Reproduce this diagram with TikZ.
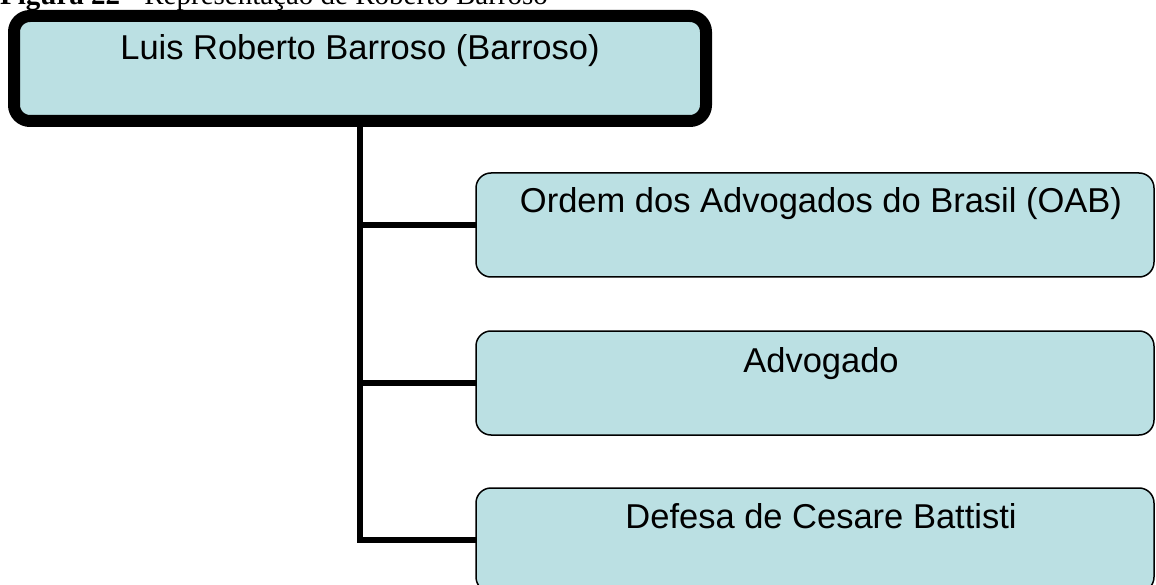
\documentclass[tikz,border=0pt]{standalone}
\usepackage{fontspec}
\setmainfont{Liberation Sans}
\newfontfamily\capfont{Liberation Serif}
\definecolor{boxfill}{RGB}{187,224,227}
\begin{document}
\begin{tikzpicture}[x=1pt,y=-1pt,
  topbox/.style={draw=black,fill=boxfill,line width=12pt,rounded corners=16pt,
    minimum width=692pt,minimum height=105pt,inner sep=0pt,outer sep=0pt},
  childbox/.style={draw=black,fill=boxfill,line width=1.5pt,rounded corners=15pt,
    minimum width=678pt,minimum height=104pt,inner sep=0pt,outer sep=0pt},
  boxtext/.style={font=\fontsize{34.5}{41}\selectfont,anchor=base,inner sep=0pt},
  conn/.style={draw=black,line width=6pt}]
\useasboundingbox (0,0) rectangle (1156,585);
\clip (0,0) rectangle (1156,585);
% caption (cut off at the top, as in the reference)
\node[anchor=base west,inner sep=0pt,font=\capfont\fontsize{29}{34}\selectfont] (cap) at (0,5)
  {\textbf{Figura 22} - Representação de Roberto Barroso};
% boxes
\node[topbox] (top) at (360,68.5) {};
\node[childbox] (c1) at (815,225) {};
\node[childbox] (c2) at (815,383) {};
\node[childbox] (c3) at (815,540) {};
% texts
\node[boxtext] (t0) at (360,60) {Luis Roberto Barroso (Barroso)};
\node[boxtext] (t1) at (821,213) {Ordem dos Advogados do Brasil (OAB)};
\node[boxtext] (t2) at (821,372) {Advogado};
\node[boxtext] (t3) at (821,528) {Defesa de Cesare Battisti};
% connectors
\draw[conn] (top.south) |- (c3.west);
\draw[conn] (top.south |- c1.west) -- (c1.west);
\draw[conn] (top.south |- c2.west) -- (c2.west);
\end{tikzpicture}
\end{document}
